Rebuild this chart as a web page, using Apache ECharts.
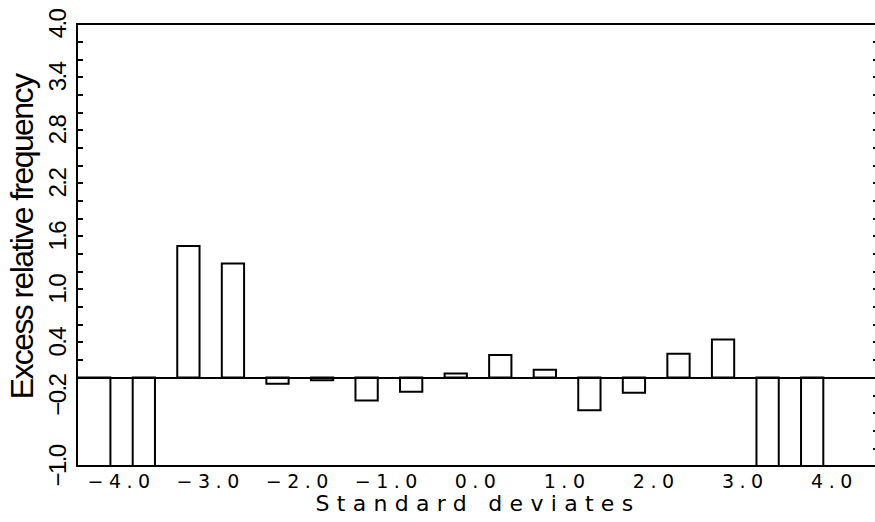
<!DOCTYPE html>
<html><head><meta charset="utf-8">
<script src="https://cdn.jsdelivr.net/npm/echarts@6/dist/echarts.min.js"></script>
<style>
html,body{margin:0;padding:0;background:#fff;}
#chart{width:875px;height:522px;}
#chart text[style*="Roboto"], #chart text[font-family*="Roboto"]{letter-spacing:5.5px;}
#chart text[style*="Lato"], #chart text[font-family*="Lato"]{letter-spacing:7.3px;}
#chart text[style*="Liberation"], #chart text[font-family*="Liberation"]{letter-spacing:-1.6px;}
</style></head><body><div id="chart"></div>
<script>
// Bins (standard deviates) and excess relative frequency.
// Tail bars run off the bottom of the scale; they are drawn down to the axis minimum.
const binLow  = [-4.5, -3.875, -3.375, -2.875, -2.375, -1.875, -1.375, -0.875, -0.375, 0.125, 0.625, 1.125, 1.625, 2.125, 2.625, 3.125, 3.625];
const binHigh = [-4.125, -3.625, -3.125, -2.625, -2.125, -1.625, -1.125, -0.625, -0.125, 0.375, 0.875, 1.375, 1.875, 2.375, 2.875, 3.375, 3.875];
const excess  = [-1.0, -1.0, 1.49, 1.29, -0.07, -0.03, -0.26, -0.16, 0.045, 0.255, 0.09, -0.37, -0.17, 0.27, 0.43, -1.0, -1.0];

const xLabelValues = [-4, -3, -2, -1, 0, 1, 2, 3, 4];
const xTickLabels  = ['\u22124.0', '\u22123.0', '\u22122.0', '\u22121.0', '0.0', '1.0', '2.0', '3.0', '4.0'];
const yLabelValues = [4.0, 3.4, 2.8, 2.2, 1.6, 1.0, 0.4, -0.2, -1.0];
const yTickLabels  = ['4.0', '3.4', '2.8', '2.2', '1.6', '1.0', '0.4', '\u22120.2', '\u22121.0'];

const xTitle = 'Standard deviates';
const yTitle = 'Excess relative frequency';

const barData = binLow.map((lo, i) => [lo, binHigh[i], excess[i]]);

function pick(values, labels, v) {
  for (let i = 0; i < values.length; i++) {
    if (Math.abs(values[i] - v) < 1e-6) return labels[i];
  }
  return '';
}

const narrow = '"Liberation Sans", sans-serif';
const roundLabel = '"DejaVu Sans", "Roboto", sans-serif';
const roundTitle = '"DejaVu Sans", "Lato", sans-serif';

const chart = echarts.init(document.getElementById('chart'), null, {renderer: 'svg'});
chart.setOption({
  animation: false,
  backgroundColor: '#fff',
  grid: {left: 77, right: -4, top: 24, bottom: 56, containLabel: false, outerBoundsMode: 'none'},
  xAxis: [{
    type: 'value', position: 'bottom', min: -4.5, max: 4.5, interval: 0.5,
    axisLine: {show: true, onZero: false, lineStyle: {color: '#000', width: 2}},
    axisTick: {show: false},
    splitLine: {show: false},
    axisLabel: {
      show: true, color: '#000', fontFamily: roundLabel, fontSize: 19, lineHeight: 18, margin: 6,
      showMinLabel: true, showMaxLabel: true,
      formatter: v => pick(xLabelValues, xTickLabels, v)
    },
    name: xTitle, nameLocation: 'middle', nameGap: 26, nameMoveOverlap: false,
    nameTextStyle: {color: '#000', fontFamily: roundTitle, fontSize: 22, lineHeight: 22}
  }, {
    type: 'value', position: 'top', min: -4.5, max: 4.5, interval: 0.5,
    axisLine: {show: true, onZero: false, lineStyle: {color: '#000', width: 2}},
    axisTick: {show: false}, axisLabel: {show: false}, splitLine: {show: false}
  }],
  yAxis: [{
    type: 'value', position: 'left', min: -1, max: 4, interval: 0.2,
    axisLine: {show: true, onZero: false, lineStyle: {color: '#000', width: 2}},
    axisTick: {show: true, inside: true, length: 6, lineStyle: {color: '#000', width: 2}},
    splitLine: {show: false},
    axisLabel: {
      show: true, color: '#000', fontFamily: narrow, fontSize: 24, rotate: 90, margin: 8,
      showMinLabel: true, showMaxLabel: true,
      formatter: v => pick(yLabelValues, yTickLabels, v)
    },
    name: yTitle, nameLocation: 'middle', nameGap: 39, nameRotate: 90, nameMoveOverlap: false,
    nameTextStyle: {color: '#000', fontFamily: narrow, fontSize: 32, padding: [0, 0, 0, 16]}
  }, {
    type: 'value', position: 'right', min: -1, max: 4, interval: 0.2,
    axisLine: {show: true, onZero: false, lineStyle: {color: '#000', width: 2}},
    axisTick: {show: true, inside: true, length: 6, lineStyle: {color: '#000', width: 2}},
    axisLabel: {show: false}, splitLine: {show: false}
  }],
  series: [{
    type: 'custom',
    xAxisIndex: 0, yAxisIndex: 0,
    clip: true,
    data: barData,
    renderItem: function (params, api) {
      const p0 = api.coord([api.value(0), api.value(2)]);
      const p1 = api.coord([api.value(1), 0]);
      return {
        type: 'rect',
        shape: {x: p0[0], y: Math.min(p0[1], p1[1]), width: p1[0] - p0[0], height: Math.abs(p1[1] - p0[1])},
        style: {fill: '#fff', stroke: '#000', lineWidth: 2}
      };
    },
    markLine: {
      silent: true, symbol: 'none', animation: false,
      label: {show: false},
      lineStyle: {color: '#000', width: 2, type: 'solid'},
      data: [{yAxis: 0}]
    }
  }]
});
</script></body></html>
